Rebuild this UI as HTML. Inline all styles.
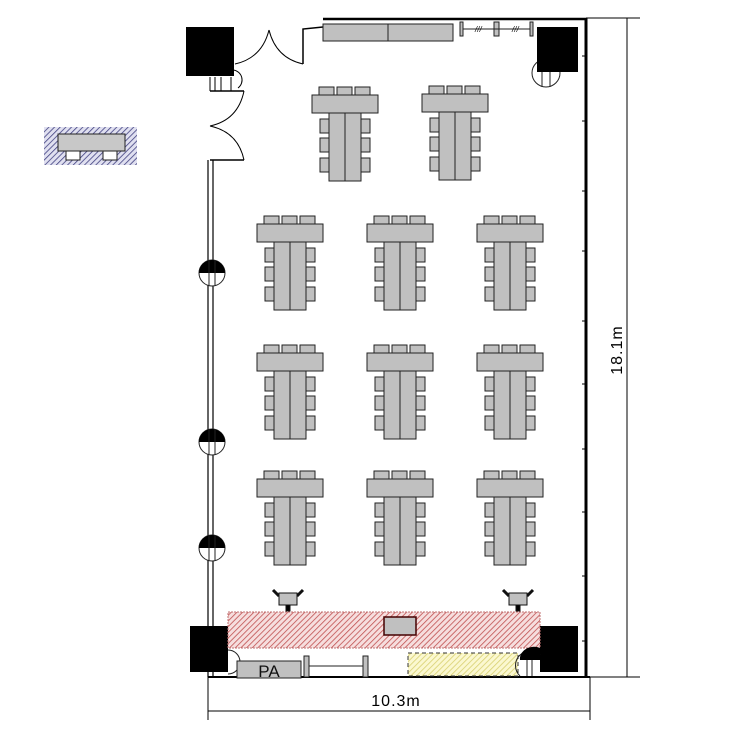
<!DOCTYPE html>
<html><head><meta charset="utf-8"><style>
html,body{margin:0;padding:0;background:#fff;}
svg{display:block;font-family:"Liberation Sans",sans-serif;}
</style></head><body>
<svg width="750" height="750" viewBox="0 0 750 750" xmlns="http://www.w3.org/2000/svg">
<defs>
<pattern id="red" width="4" height="4" patternUnits="userSpaceOnUse" patternTransform="rotate(45)">
<rect width="4" height="4" fill="#f6dede"/><line x1="0" y1="0" x2="0" y2="4" stroke="#c05050" stroke-width="1.6"/></pattern>
<pattern id="yel" width="4" height="4" patternUnits="userSpaceOnUse" patternTransform="rotate(45)">
<rect width="4" height="4" fill="#fbf8d0"/><line x1="0" y1="0" x2="0" y2="4" stroke="#d8d070" stroke-width="1.6"/></pattern>
<pattern id="blu" width="4" height="4" patternUnits="userSpaceOnUse" patternTransform="rotate(45)">
<rect width="4" height="4" fill="#e0e0f0"/><line x1="0" y1="0" x2="0" y2="4" stroke="#404080" stroke-width="1.6"/></pattern>
<g id="grp" stroke="#222" stroke-width="1" fill="#c0c0c0">
<rect x="-26" y="-8" width="15" height="8"/><rect x="-8" y="-8" width="15" height="8"/><rect x="10" y="-8" width="15" height="8"/>
<rect x="-33" y="0" width="66" height="18"/>
<rect x="-16" y="18" width="32" height="68"/><line x1="0" y1="18" x2="0" y2="86"/>
<rect x="-25" y="24" width="9" height="14"/><rect x="-25" y="43" width="9" height="14"/><rect x="-25" y="63" width="9" height="14"/>
<rect x="16" y="24" width="9" height="14"/><rect x="16" y="43" width="9" height="14"/><rect x="16" y="63" width="9" height="14"/>
</g>
<g id="col">
<circle cx="0" cy="0" r="13" fill="#fff" stroke="#222" stroke-width="1"/>
<path d="M-13,0 A13,13 0 0 1 13,0 Z" fill="#000"/>
<line x1="-3" y1="-13" x2="-3" y2="13" stroke="#222"/><line x1="3" y1="-13" x2="3" y2="13" stroke="#222"/>
</g>
</defs>

<g stroke="#000" fill="none">
<line x1="208" y1="160" x2="208" y2="677" stroke-width="1.2"/>
<line x1="213" y1="160" x2="213" y2="677" stroke-width="1.2"/>
<line x1="586" y1="18" x2="586" y2="677" stroke-width="3"/>
<line x1="323" y1="19" x2="586" y2="19" stroke-width="2.5"/>
<line x1="208" y1="677" x2="590" y2="677" stroke-width="2"/>
<path d="M303,64 L303,29 L323,27" stroke-width="1.5"/>
<path d="M235,64 Q262,58 269,30" stroke-width="1"/>
<path d="M303,64 Q276,58 269,30" stroke-width="1"/>
<path d="M210,91 L244,91 M210,160 L244,160" stroke-width="1.5"/>
<path d="M244,91 Q238,120 210,126" stroke-width="1"/>
<path d="M244,160 Q238,132 210,126" stroke-width="1"/>
<path d="M210,77 L210,91 M215,77 L215,91 M221,77 L221,91 M231,77 L231,91"/>
<path d="M233,70 A10,10 0 0 1 238,88" />
</g>
<g stroke="#000" stroke-width="1">
<line x1="582" y1="56" x2="586" y2="56"/><line x1="582" y1="121" x2="586" y2="121"/><line x1="582" y1="191" x2="586" y2="191"/><line x1="582" y1="251" x2="586" y2="251"/><line x1="582" y1="321" x2="586" y2="321"/><line x1="582" y1="384" x2="586" y2="384"/><line x1="582" y1="449" x2="586" y2="449"/><line x1="582" y1="512" x2="586" y2="512"/><line x1="582" y1="576" x2="586" y2="576"/><line x1="582" y1="641" x2="586" y2="641"/>
</g>

<rect x="186" y="27" width="48" height="49" fill="#000"/>
<circle cx="546" cy="73" r="14" fill="#fff" stroke="#222"/>
<line x1="542" y1="60" x2="542" y2="87" stroke="#222"/><line x1="550" y1="60" x2="550" y2="87" stroke="#222"/>
<rect x="537" y="27" width="41" height="45" fill="#000"/>
<rect x="190" y="626" width="38" height="46" fill="#000"/>
<rect x="540" y="626" width="38" height="46" fill="#000"/>

<rect x="323" y="24" width="130" height="17" fill="#c0c0c0" stroke="#222"/>
<line x1="388" y1="24" x2="388" y2="41" stroke="#222"/>
<g stroke="#222" fill="#c0c0c0">
<rect x="460" y="22" width="3" height="14"/><rect x="494" y="22" width="5" height="14"/><rect x="530" y="22" width="3" height="14"/>
<line x1="463" y1="29" x2="530" y2="29"/>
</g>
<text x="475" y="32" font-size="8" font-style="italic">///</text>
<text x="512" y="32" font-size="8" font-style="italic">///</text>

<use href="#col" x="212" y="273"/>
<use href="#col" x="212" y="442"/>
<use href="#col" x="212" y="548"/>

<use href="#grp" x="345" y="95"/><use href="#grp" x="455" y="94"/>
<use href="#grp" x="290" y="224"/><use href="#grp" x="400" y="224"/><use href="#grp" x="510" y="224"/>
<use href="#grp" x="290" y="353"/><use href="#grp" x="400" y="353"/><use href="#grp" x="510" y="353"/>
<use href="#grp" x="290" y="479"/><use href="#grp" x="400" y="479"/><use href="#grp" x="510" y="479"/>

<g stroke="#111" fill="#c0c0c0">
<path d="M273,590 L279,596 M297,596 L303,590" stroke-width="3" fill="none"/>
<rect x="279" y="593" width="18" height="12"/><rect x="286" y="605" width="4" height="6" fill="#000"/>
<path d="M503,590 L509,596 M527,596 L533,590" stroke-width="3" fill="none"/>
<rect x="509" y="593" width="18" height="12"/><rect x="516" y="605" width="4" height="6" fill="#000"/>
</g>

<rect x="228" y="612" width="312" height="36" fill="url(#red)" stroke="#c07070" stroke-dasharray="2,1"/>
<rect x="384" y="617" width="32" height="18" fill="#c0c0c0" stroke="#400" stroke-width="1.5"/>
<rect x="408" y="653" width="110" height="23" fill="url(#yel)" stroke="#333" stroke-dasharray="4,3"/>
<g stroke="#222" fill="none">
<path d="M520,676 A12,12 0 0 1 540,655 M527,655 L527,676 M532,655 L532,676"/>
<path d="M228,650 A12,12 0 0 1 228,674"/>
</g>
<path d="M520,660 A14,12 0 0 1 540,648 L540,660 Z" fill="#000"/>
<rect x="237" y="661" width="64" height="17" fill="#c0c0c0" stroke="#222"/>
<text x="269" y="677" font-size="17" text-anchor="middle" fill="#111">PA</text>
<g stroke="#222" fill="#c0c0c0">
<rect x="304" y="656" width="5" height="21"/><rect x="363" y="656" width="5" height="21"/>
<line x1="309" y1="666" x2="363" y2="666"/>
</g>

<g stroke="#000" stroke-width="1">
<line x1="586" y1="18" x2="640" y2="18"/><line x1="586" y1="677" x2="640" y2="677"/>
<line x1="627" y1="18" x2="627" y2="677"/>
<line x1="208" y1="677" x2="208" y2="720"/><line x1="590" y1="677" x2="590" y2="720"/>
<line x1="208" y1="711" x2="590" y2="711"/>
</g>
<text x="396" y="706" font-size="16" letter-spacing="1" text-anchor="middle">10.3m</text>
<text transform="translate(622,350) rotate(-90)" font-size="16" letter-spacing="1" text-anchor="middle">18.1m</text>

<rect x="44" y="127" width="93" height="38" fill="url(#blu)"/>
<rect x="58" y="134" width="67" height="17" fill="#c8c8c8" stroke="#222"/>
<g fill="#fff" stroke="#222"><rect x="66" y="151" width="14" height="9"/><rect x="103" y="151" width="14" height="9"/></g>
</svg>
</body></html>
